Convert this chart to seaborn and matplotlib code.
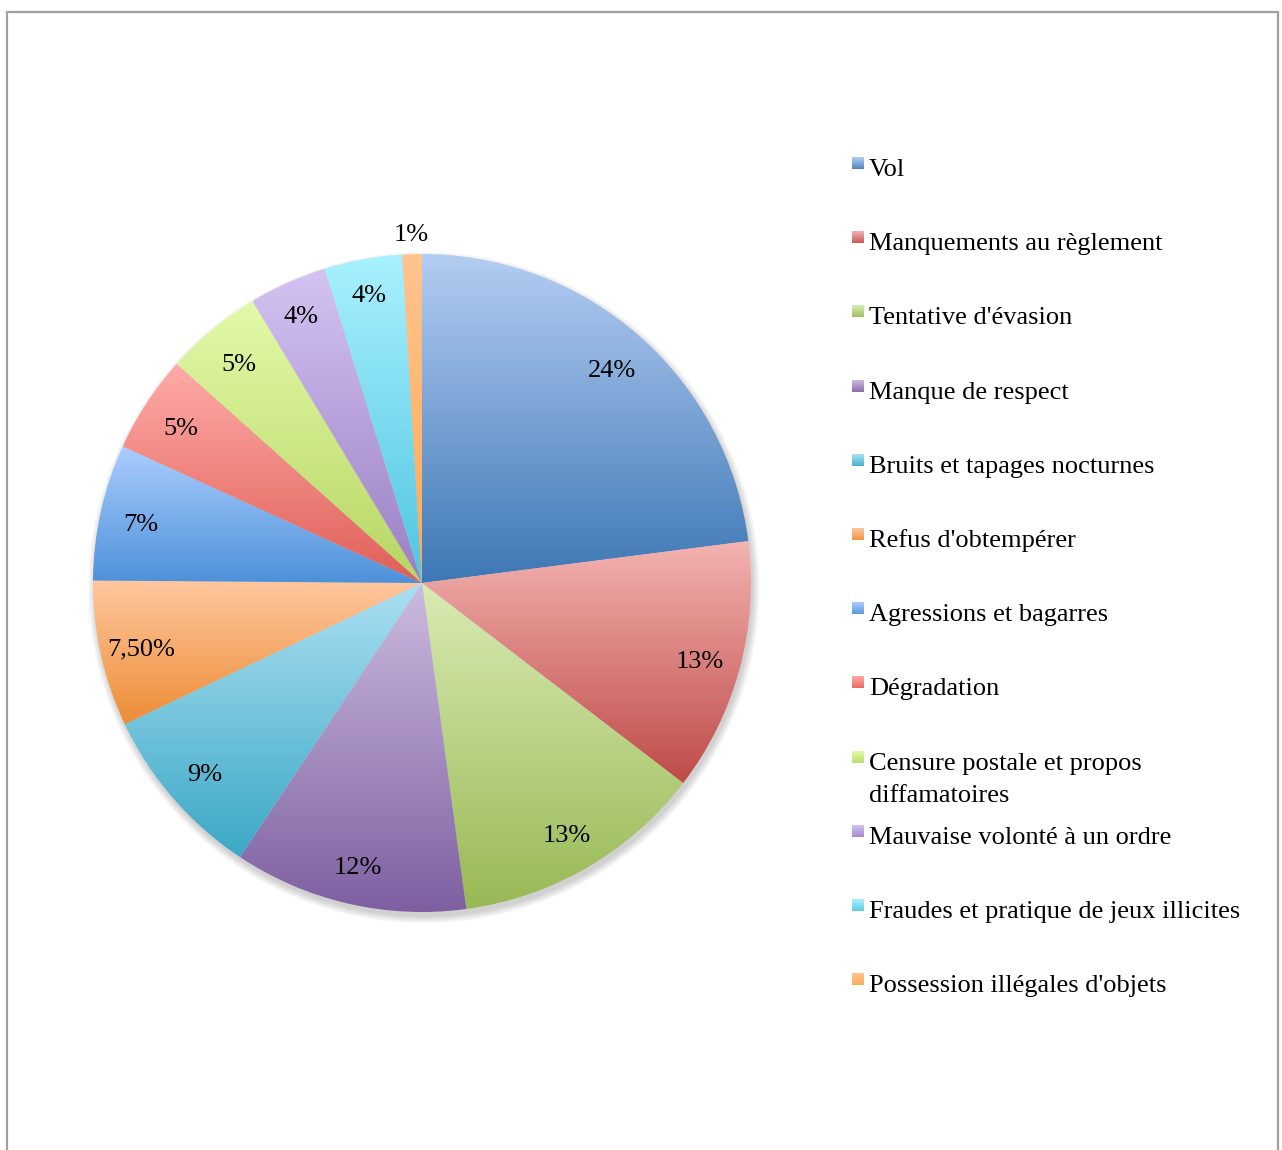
"""
Pie chart of disciplinary offences (share of each category), with
gradient-filled wedges and a hand-placed legend on the right.
"""

import matplotlib
matplotlib.use('Agg')
import matplotlib.pyplot as plt
from matplotlib.patches import Circle
import numpy as np
import seaborn as sns

categories = ['Vol', 'Manquements au règlement', "Tentative d'évasion",
              'Manque de respect', 'Bruits et tapages nocturnes',
              "Refus d'obtempérer", 'Agressions et bagarres', 'Dégradation',
              'Censure postale et propos\ndiffamatoires',
              'Mauvaise volonté à un ordre',
              'Fraudes et pratique de jeux illicites',
              "Possession illégales d'objets"]
values = [24, 13, 13, 12, 9, 7.5, 7, 5, 5, 4, 4, 1]
pct_labels = ['24%', '13%', '13%', '12%', '9%', '7,50%', '7%', '5%', '5%',
              '4%', '4%', '1%']

# light (top) / dark (bottom) colour of each wedge gradient
top_colors = ['#B4CDF2', '#F4B3B1', '#D9EBB4', '#CCBCE0', '#ACE0F3', '#FFC79F',
              '#ABCDFF', '#FFACA9', '#E3FAA9', '#D4C3F3', '#A9F1FF', '#FFC48E']
bottom_colors = ['#3D77B5', '#BE4B48', '#98B954', '#7D5FA0', '#3BA8C5', '#ED8D36',
                 '#4D91D9', '#E05F57', '#B7D663', '#9A7FC2', '#50C5E1', '#FFA94F']

sns.set_theme(style='white')
plt.rcParams['font.family'] = ['Liberation Serif', 'DejaVu Serif']

W, H = 1282, 1150
fig = plt.figure(figsize=(W / 100, H / 100), dpi=100)
fig.patch.set_facecolor('white')

# pie axes: centre (422, 583) px, radius 329 px, limits +-1.1
R = 329
cx, cy = 422, 583
half = 1.1 * R
ax = fig.add_axes([(cx - half) / W, (H - cy - half) / H, 2 * half / W, 2 * half / H])
ax.set_axis_off()

cmaps = [sns.blend_palette([t, b], n_colors=256, as_cmap=True)
         for t, b in zip(top_colors, bottom_colors)]

# soft drop shadow
for i in range(6):
    ax.add_patch(Circle((0.006, -0.014), 1.0 + 0.004 * i, facecolor='black',
                        edgecolor='none', alpha=0.03, zorder=0))

wedges, _ = ax.pie(values, startangle=90, counterclock=False, radius=1,
                   wedgeprops=dict(linewidth=0, edgecolor='none'))

grad = np.linspace(0, 1, 256).reshape(-1, 1)
for w, cmap in zip(wedges, cmaps):
    w.set_facecolor('none')
    v = w.get_path().vertices
    x0, x1 = v[:, 0].min(), v[:, 0].max()
    y0, y1 = v[:, 1].min(), v[:, 1].max()
    im = ax.imshow(grad, cmap=cmap, extent=[x0, x1, y0, y1], aspect='auto',
                   interpolation='bilinear', zorder=2)
    im.set_clip_path(w)

for i, (w, lab) in enumerate(zip(wedges, pct_labels)):
    mid = np.deg2rad((w.theta1 + w.theta2) / 2)
    r = 1.07 if values[i] < 2 else (0.9 if values[i] < 4.5 else 0.875)
    ax.text(r * np.cos(mid), r * np.sin(mid) - 0.012, lab, ha='center',
            va='center', fontsize=19, color='black', zorder=5)

ax.set_xlim(-1.1, 1.1)
ax.set_ylim(-1.1, 1.1)
ax.set_aspect('equal')

# overlay in pixel coordinates: legend and frame
ov = fig.add_axes([0, 0, 1, 1])
ov.set_axis_off()
base0, step, line_h = 176, 74.2, 32
for i, (name, cmap) in enumerate(zip(categories, cmaps)):
    base = base0 + i * step
    ov.imshow(grad * 0.85, cmap=cmap, vmin=0, vmax=1,
              extent=[852, 864, base - 7, base - 19],
              aspect='auto', interpolation='bilinear')
    for j, line in enumerate(name.split('\n')):
        ov.text(869, base + j * line_h, line, ha='left', va='baseline',
                fontsize=19, color='black')

ov.plot([7, 7, 1278, 1278], [H + 10, 12, 12, H + 10], color='#A0A0A0',
        linewidth=1.6, solid_joinstyle='miter')
ov.set_xlim(0, W)
ov.set_ylim(H, 0)

fig.savefig('out.png', dpi=100, facecolor='white')
